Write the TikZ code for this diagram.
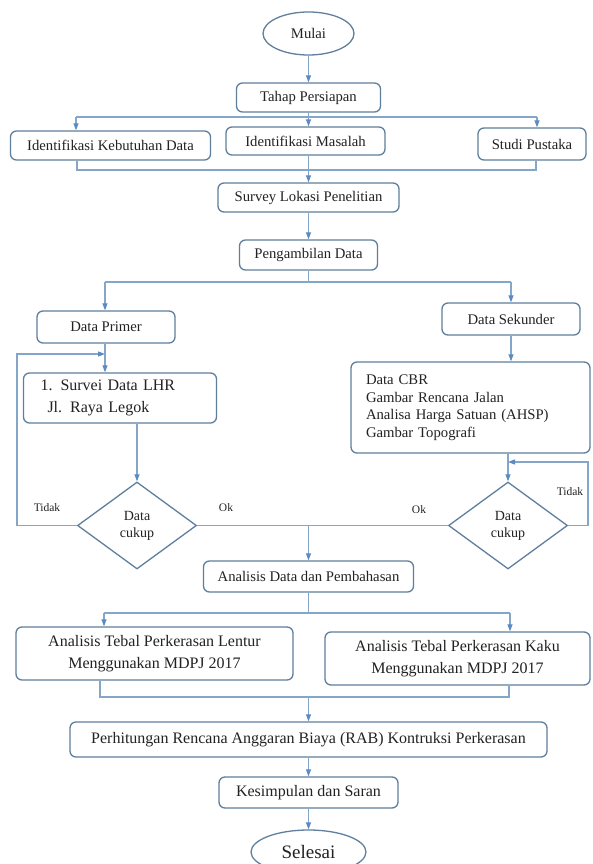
\documentclass[tikz,border=0pt]{standalone}
\usepackage{fontspec}
\setmainfont{Liberation Serif}
\usetikzlibrary{shapes.geometric,arrows.meta}
\definecolor{boxc}{HTML}{5F7F9C}
\definecolor{linec}{HTML}{84A7C9}
\definecolor{arrc}{HTML}{5B8BC2}
\definecolor{txtc}{HTML}{222222}
\newcommand\fA{\fontsize{14.7}{17.5}\selectfont}
\newcommand\fB{\fontsize{16}{21.5}\selectfont}
\newcommand\fC{\fontsize{11.5}{13}\selectfont}
\newcommand\fD{\fontsize{14}{17}\selectfont}
\newcommand\fE{\fontsize{19}{22}\selectfont}
\tikzset{
  box/.style={draw=boxc, line width=1.3pt, rounded corners=6pt, fill=white, inner sep=0pt, align=center, text=txtc, font=\fA},
  bigbox/.style={box, font=\fB},
  term/.style={draw=boxc, line width=1.3pt, ellipse, fill=white, inner sep=0pt, text=txtc},
  dia/.style={draw=boxc, line width=1.3pt, diamond, fill=white, inner sep=0pt, align=center, text=txtc, font=\fD, minimum width=119pt, minimum height=87pt},
  conn/.style={draw=linec, line width=1.1pt},
  arr/.style={conn, -{Triangle[length=7pt,width=5pt,color=arrc]}},
  lbl/.style={text=txtc, font=\fC, inner sep=0pt},
}
\begin{document}
\begin{tikzpicture}[x=1pt,y=-1pt]
\useasboundingbox (0,0) rectangle (592,864);
\fill[white] (0,0) rectangle (592,864);

\node[term, font=\fA, minimum width=91pt, minimum height=43pt] (mulai) at (308.5,33.5) {Mulai};
\node[box, minimum width=144pt, minimum height=29pt] (tahap) at (308.5,97.5) {Tahap Persiapan};
\node[box, minimum width=200pt, minimum height=29pt] (keb) at (110.5,145.5) {Identifikasi Kebutuhan Data};
\node[box, minimum width=159pt, minimum height=28pt] (masalah) at (305.5,141) {Identifikasi Masalah};
\node[box, minimum width=108pt, minimum height=32pt] (studi) at (532,144) {Studi Pustaka};
\node[box, minimum width=181pt, minimum height=29pt] (survey) at (308.5,197.5) {Survey Lokasi Penelitian};
\node[box, minimum width=138pt, minimum height=30pt] (ambil) at (308.5,255) {Pengambilan Data};
\node[box, minimum width=138pt, minimum height=32pt] (primer) at (106,327) {Data Primer};
\node[box, minimum width=138pt, minimum height=32pt] (sekunder) at (511,319) {Data Sekunder};
\node[box, font=\fB, minimum width=176pt, minimum height=50pt, align=left, text width=159pt, inner xsep=17pt] (survei) at (120,398) {1. Survei Data LHR\\\hspace*{7pt}Jl. Raya Legok};
\node[box, minimum width=239pt, minimum height=91pt, align=left, text width=209pt, inner xsep=15pt] (cbr) at (470.5,407.5) {Data CBR\\Gambar Rencana Jalan\\Analisa Harga Satuan (AHSP)\\Gambar Topografi};
\node[dia] (d1) at (137,525.5) {Data\\cukup};
\node[dia] (d2) at (508,525.5) {Data\\cukup};
\node[box, minimum width=210pt, minimum height=31pt] (analisis) at (308.5,576.5) {Analisis Data dan Pembahasan};
\node[bigbox, minimum width=277pt, minimum height=53pt] (lentur) at (154.5,653.5) {Analisis Tebal Perkerasan Lentur\\Menggunakan MDPJ 2017};
\node[bigbox, minimum width=265pt, minimum height=53pt] (kaku) at (457.5,658.5) {Analisis Tebal Perkerasan Kaku\\Menggunakan MDPJ 2017};
\node[bigbox, minimum width=477pt, minimum height=35pt] (hitung) at (308.5,739.5) {Perhitungan Rencana Anggaran Biaya (RAB) Kontruksi Perkerasan};
\node[bigbox, minimum width=179pt, minimum height=31pt] (simpul) at (308.5,792.5) {Kesimpulan dan Saran};
\node[term, font=\fE, minimum width=115pt, minimum height=44pt] (selesai) at (308.5,852) {Selesai};

\node[lbl] (t1) at (47,508) {Tidak};
\node[lbl] (ok1) at (226,508) {Ok};
\node[lbl] (ok2) at (419,510) {Ok};
\node[lbl] (t2) at (570,492) {Tidak};

% coordinates
\coordinate (tl) at (76,117);
\coordinate (tr) at (537,117);
\coordinate (ml) at (77,170);
\coordinate (mr) at (536,170);
\coordinate (al) at (105,282);
\coordinate (ar) at (511,282);
\coordinate (fbl) at (17,525.5);
\coordinate (fbl2) at (17,354);
\coordinate (fbr) at (588,525.5);
\coordinate (fbr2) at (588,462);
\coordinate (nl) at (104,613);
\coordinate (nr) at (510,613);
\coordinate (kl) at (100,697);
\coordinate (kr) at (509,697);

% connectors
\draw[arr] (mulai) -- (tahap);
\draw[conn] (tl) -- (tr);
\draw[arr] (tl) -- (tl |- keb.north);
\draw[arr] (tr) -- (tr |- studi.north);
\draw[arr] (tahap.south) -- (tahap.south |- masalah.north);
\draw[conn] (ml |- keb.south) -- (ml) -- (mr) -- (mr |- studi.south);
\draw[arr] (survey.north |- masalah.south) -- (survey.north);
\draw[arr] (survey) -- (ambil);
\draw[conn] (ambil.south) -- (ambil.south |- al);
\draw[conn] (al) -- (ar);
\draw[arr] (al) -- (al |- primer.north);
\draw[arr] (ar) -- (ar |- sekunder.north);
\draw[arr] (al |- primer.south) -- (al |- survei.north);
\draw[arr] (d1.north |- survei.south) -- (d1.north);
\draw[arr] (d1.west) -- (fbl) -- (fbl2) -- (al |- fbl2);
\draw[arr] (ar |- sekunder.south) -- (ar |- cbr.north);
\draw[arr] (d2.north |- cbr.south) -- (d2.north);
\draw[arr] (d2.east) -- (fbr) -- (fbr2) -- (d2.north |- fbr2);
\draw[conn] (d1.east) -- (d2.west);
\draw[arr] (analisis.north |- d1.east) -- (analisis.north);
\draw[conn] (analisis.south) -- (analisis.south |- nl);
\draw[conn] (nl) -- (nr);
\draw[arr] (nl) -- (nl |- lentur.north);
\draw[arr] (nr) -- (nr |- kaku.north);
\draw[conn] (kl |- lentur.south) -- (kl) -- (kr) -- (kr |- kaku.south);
\draw[arr] (hitung.north |- kl) -- (hitung.north);
\draw[arr] (hitung) -- (simpul);
\draw[arr] (simpul) -- (selesai);
\end{tikzpicture}
\end{document}
